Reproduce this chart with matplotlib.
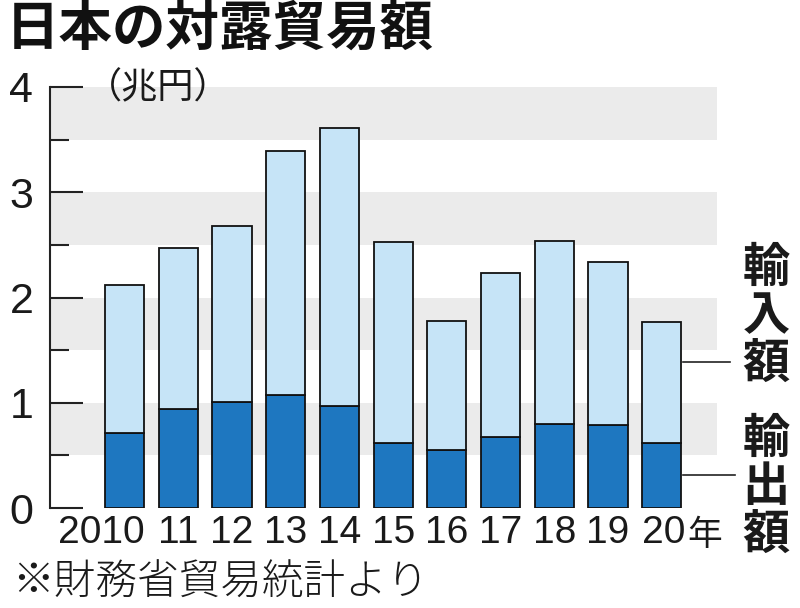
import matplotlib
matplotlib.use("Agg")
import matplotlib.pyplot as plt
import numpy as np

plt.rcParams["font.family"] = ["Noto Sans CJK JP", "DejaVu Sans"]

years = ["2010", "11", "12", "13", "14", "15", "16", "17", "18", "19", "20"]
exports = [0.71, 0.94, 1.01, 1.07, 0.97, 0.62, 0.55, 0.67, 0.80, 0.785, 0.62]
imports = [1.41, 1.53, 1.67, 2.32, 2.64, 1.91, 1.23, 1.56, 1.74, 1.555, 1.15]
y_ticks = [0, 1, 2, 3, 4]

light = "#c6e4f7"
dark = "#1e77c0"
band = "#ebebeb"
num_font = ["Liberation Sans", "DejaVu Sans"]

fig = plt.figure(figsize=(8, 6.08), dpi=100)
ax = fig.add_axes([50 / 800, 100 / 608, 667 / 800, 421 / 608])

x = np.arange(len(years))

# grey bands
for lo in [0.5, 1.5, 2.5, 3.5]:
    ax.axhspan(lo, lo + 0.5, color=band, lw=0, zorder=0)

ax.bar(x, exports, width=0.73, color=dark, edgecolor="#111111", lw=1.3, zorder=2)
ax.bar(x, imports, width=0.73, bottom=exports, color=light,
       edgecolor="#111111", lw=1.3, zorder=2)

ax.set_xlim(-1.39, 11.03)
ax.set_ylim(0, 4)

for s in ["top", "right", "bottom"]:
    ax.spines[s].set_visible(False)
ax.spines["left"].set_linewidth(1.5)
ax.spines["left"].set_color("#222222")

ax.set_yticks(y_ticks)
ax.set_yticks([0.5, 1.5, 2.5, 3.5], minor=True)
ax.tick_params(axis="y", which="major", direction="in", length=24, width=1.5,
               color="#222222", pad=12)
ax.tick_params(axis="y", which="minor", direction="in", length=13.5, width=1.5,
               color="#222222")
ax.set_yticklabels([str(v) for v in y_ticks], fontsize=31, family=num_font,
                   color="#1a1a1a")
ax.set_xticks([])

# year labels
for i, lab in enumerate(years):
    if i == 0:
        ax.text(i + 0.38, -0.07, lab, ha="right", va="top", fontsize=28,
                family=num_font, color="#1a1a1a")
    elif i == len(years) - 1:
        t = ax.text(i - 0.365, -0.07, lab, ha="left", va="top", fontsize=28,
                    family=num_font, color="#1a1a1a")
        ax.annotate("年", xycoords=t, xy=(1, 0.45), xytext=(1, 0),
                    textcoords="offset points", ha="left", va="center",
                    fontsize=25, color="#1a1a1a")
    else:
        ax.text(i, -0.07, lab, ha="center", va="top", fontsize=28,
                family=num_font, color="#1a1a1a")

# leader lines to series labels
ax.plot([10.40, 11.28], [1.39, 1.39], color="#222222", lw=1.2, clip_on=False)
ax.plot([10.40, 11.37], [0.31, 0.31], color="#222222", lw=1.2, clip_on=False)

fig.text(766 / 800, 1 - 316 / 608, "輸\n入\n額", ha="center", va="center",
         fontsize=34, fontweight="bold", linespacing=1.0, color="#1a1a1a")
fig.text(766 / 800, 1 - 487 / 608, "輸\n出\n額", ha="center", va="center",
         fontsize=34, fontweight="bold", linespacing=1.0, color="#1a1a1a")

fig.text(86 / 800, 1 - 88 / 608, "（兆円）", ha="left", va="center",
         fontsize=26, color="#1a1a1a")

fig.text(6 / 800, 1 - 29 / 608, "日本の対露貿易額", ha="left", va="center",
         fontsize=38.5, fontweight="bold", color="#111111")

fig.text(12 / 800, 1 - 583 / 608, "※財務省貿易統計より", ha="left", va="center",
         fontsize=30, fontweight="light", color="#1a1a1a")

fig.savefig("out.png", dpi=100)
